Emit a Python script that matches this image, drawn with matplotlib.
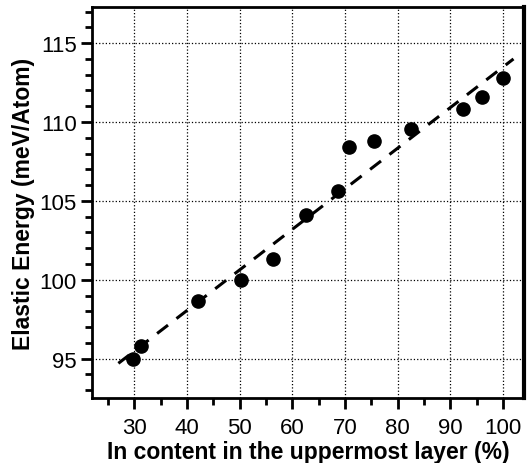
import matplotlib
matplotlib.use("Agg")
import matplotlib.pyplot as plt
from matplotlib.ticker import MultipleLocator

# In content (%) vs elastic energy (meV/Atom)
in_content = [29.8, 31.3, 42.2, 50.3, 56.3, 62.7, 68.7, 70.7, 75.6, 82.6, 92.5, 96.0, 100.0]
energy = [95.0, 95.8, 98.65, 100.0, 101.3, 104.1, 105.6, 108.4, 108.8, 109.55, 110.8, 111.6, 112.8]

# linear fit (dashed)
fit_x = [27.0, 102.0]
fit_y = [94.7, 114.0]

plt.rcParams['font.family'] = ['Liberation Sans', 'DejaVu Sans']

fig = plt.figure(figsize=(5.32, 4.64), dpi=100)
ax = fig.add_axes([0.173, 0.14, 0.812, 0.843])

ax.plot(fit_x, fit_y, linestyle=(0, (4.5, 3.5)), color='black', linewidth=2.2)
ax.plot(in_content, energy, 'o', color='black', markersize=9.5)

ax.set_xlim(22, 104)
ax.set_ylim(92.5, 117.3)
ax.xaxis.set_major_locator(MultipleLocator(10))
ax.xaxis.set_minor_locator(MultipleLocator(5))
ax.yaxis.set_major_locator(MultipleLocator(5))
ax.yaxis.set_minor_locator(MultipleLocator(1))

ax.tick_params(which='both', direction='out', width=2, labelsize=16, top=False, right=False)
ax.tick_params(which='major', length=8)
ax.tick_params(axis='x', which='major', pad=6)
ax.tick_params(axis='y', which='major', pad=3)
ax.tick_params(which='minor', length=5)

ax.grid(True, which='major', linestyle=':', color='black', linewidth=0.9)
for s in ax.spines.values():
    s.set_linewidth(2)
ax.spines['right'].set_linewidth(3)

ax.set_xlabel("In content in the uppermost layer (%)", fontsize=16.5, fontweight='bold', labelpad=1)
ax.set_ylabel("Elastic Energy (meV/Atom)", fontsize=16.5, fontweight='bold', labelpad=3)

fig.savefig("out.png", dpi=100)
